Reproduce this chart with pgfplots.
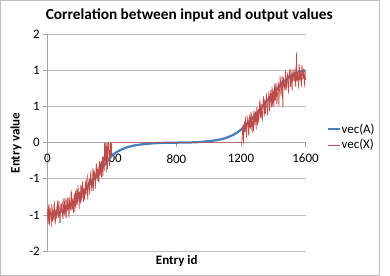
\documentclass[border=0pt]{standalone}
\usepackage{fontspec}
\setmainfont{Carlito}
\usepackage{pgfplots}
\pgfplotsset{compat=1.18}
\definecolor{xlblue}{HTML}{4A7EBB}
\definecolor{xlred}{HTML}{BE4B48}
\definecolor{gridgray}{HTML}{BFBFBF}
\definecolor{axgray}{HTML}{A6A6A6}
\begin{document}
\begin{tikzpicture}[x=1bp,y=1bp]
\path (0,0) rectangle (390,276);
\draw[color=gridgray, line width=0.75bp] (0.5,0.5) rectangle (379,275.5);
\begin{axis}[
 at={(47.3bp,25bp)}, anchor=south west,
 scale only axis, width=258.2bp, height=216.7bp,
 xmin=0, xmax=1600, ymin=-1.5, ymax=1.5,
 axis x line=middle, axis y line=left,
 axis line style={-, draw=axgray, line width=0.75bp},
 hide obscured x ticks=false, hide obscured y ticks=false,
 xtick={0,400,800,1200,1600}, xticklabels={0,400,800,1200,1600},
 ytick={-1.5,-1,-0.5,0,0.5,1,1.5}, yticklabels={-2,-1,-1,0,1,1,2},
 tick align=outside, major tick length=4bp,
 tick style={draw=axgray, line width=0.75bp},
 ymajorgrids, grid style={draw=gridgray, line width=0.75bp},
 /pgf/number format/assume math mode=true,
 ticklabel style={font=\fontsize{13}{15}\selectfont, text=black},
 xticklabel style={yshift=-4bp},
 legend style={draw=none, fill=none, at={(1.082,0.526)}, anchor=west,
   font=\fontsize{13}{15}\selectfont, row sep=3bp, inner sep=0pt,
   nodes={inner sep=1bp}},
 legend cell align=left,
 legend image code/.code={\draw[#1] (0bp,0bp) -- (11.5bp,0bp);},
 clip=false,
]
\addplot[color=xlblue, line width=2.25bp, smooth] coordinates {
(0,-1.0)(50,-0.985)(100,-0.94)(150,-0.86)(200,-0.74)(250,-0.61)(300,-0.47)(350,-0.32)(380,-0.235)(400,-0.18)(430,-0.13)(470,-0.085)(500,-0.06)(550,-0.035)(600,-0.02)(650,-0.01)(700,-0.004)(800,0)(900,0.004)(950,0.01)(1000,0.02)(1050,0.035)(1100,0.06)(1130,0.085)(1170,0.13)(1200,0.18)(1220,0.22)(1250,0.29)(1300,0.41)(1350,0.55)(1400,0.68)(1450,0.81)(1500,0.91)(1550,0.97)(1600,1.0)
};
\addlegendentry{vec(A)}
\addplot[color=xlred, line width=0.65bp] coordinates {
(0,-0.92)(2.5,-1.06)(5,-1.12)(7.5,-0.89)(10,-0.85)(12.5,-1.15)(15,-1.04)(17.5,-0.90)(20,-0.97)(22.5,-1.01)
(25,-1.17)(27.5,-0.85)(30,-0.89)(32.5,-1.09)(35,-0.95)(37.5,-0.94)(40,-1.07)(42.5,-0.81)(45,-0.85)(47.5,-1.11)
(50,-1.12)(52.5,-0.95)(55,-0.92)(57.5,-1.05)(60,-0.99)(62.5,-0.85)(65,-0.80)(67.5,-1.00)(70,-1.04)(72.5,-0.81)
(75,-0.95)(77.5,-1.11)(80,-1.11)(82.5,-0.88)(85,-0.84)(87.5,-0.95)(90,-0.87)(92.5,-0.84)(95,-1.05)(97.5,-1.05)
(100,-0.90)(102.5,-0.77)(105,-0.98)(107.5,-0.99)(110,-0.77)(112.5,-0.87)(115,-1.04)(117.5,-1.04)(120,-0.81)(122.5,-0.76)
(125,-0.92)(127.5,-0.89)(130,-0.76)(132.5,-0.99)(135,-1.04)(137.5,-0.79)(140,-0.82)(142.5,-0.91)(145,-0.93)(147.5,-0.67)
(150,-0.69)(152.5,-0.93)(155,-0.85)(157.5,-0.77)(160,-0.93)(162.5,-0.97)(165,-0.74)(167.5,-0.70)(170,-0.96)(172.5,-0.78)
(175,-0.67)(177.5,-0.91)(180,-0.78)(182.5,-0.64)(185,-0.86)(187.5,-0.80)(190,-0.58)(192.5,-0.67)(195,-0.79)(197.5,-0.92)
(200,-0.68)(202.5,-0.68)(205,-0.85)(207.5,-0.60)(210,-0.61)(212.5,-0.79)(215,-0.76)(217.5,-0.54)(220,-0.54)(222.5,-0.74)
(225,-0.82)(227.5,-0.64)(230,-0.64)(232.5,-0.79)(235,-0.56)(237.5,-0.54)(240,-0.72)(242.5,-0.65)(245,-0.50)(247.5,-0.47)
(250,-0.79)(252.5,-0.70)(255,-0.56)(257.5,-0.52)(260,-0.51)(262.5,-0.72)(265,-0.62)(267.5,-0.44)(270,-0.41)(272.5,-0.54)
(275,-0.65)(277.5,-0.62)(280,-0.52)(282.5,-0.35)(285,-0.67)(287.5,-0.56)(290,-0.39)(292.5,-0.41)(295,-0.43)(297.5,-0.64)
(300,-0.50)(302.5,-0.33)(305,-0.29)(307.5,-0.48)(310,-0.53)(312.5,-0.37)(315,-0.35)(317.5,-0.53)(320,-0.54)(322.5,-0.25)
(325,-0.37)(327.5,-0.46)(330,-0.28)(332.5,-0.27)(335,-0.44)(337.5,-0.49)(340,-0.19)(342.5,-0.30)(345,-0.46)(347.5,-0.19)
(350,-0.26)(352.5,-0.39)(355,0.00)(357.5,-0.19)(360,-0.27)(362.5,0.00)(365,-0.41)(367.5,-0.11)(370,0.00)(372.5,-0.37)
(375,-0.16)(377.5,0.00)(380,0.00)(382.5,-0.14)(385,-0.32)(387.5,-0.25)(390,0.00)(392.5,0.00)(395,-0.15)(397.5,-0.20)
(400,0.00)(1205,0.00)
(1210,0.20)(1212.5,0.25)(1215,0.00)(1217.5,0.03)(1220,0.29)(1222.5,0.24)(1225,0.15)(1227.5,0.32)(1230,0.35)(1232.5,0.11)
(1235,0.07)(1237.5,0.23)(1240,0.29)(1242.5,0.37)(1245,0.25)(1247.5,0.11)(1250,0.13)(1252.5,0.33)(1255,0.39)(1257.5,0.22)
(1260,0.20)(1262.5,0.43)(1265,0.38)(1267.5,0.18)(1270,0.14)(1272.5,0.34)(1275,0.34)(1277.5,0.16)(1280,0.44)(1282.5,0.43)
(1285,0.24)(1287.5,0.36)(1290,0.43)(1292.5,0.27)(1295,0.18)(1297.5,0.49)(1300,0.42)(1302.5,0.24)(1305,0.38)(1307.5,0.47)
(1310,0.27)(1312.5,0.38)(1315,0.55)(1317.5,0.58)(1320,0.38)(1322.5,0.34)(1325,0.54)(1327.5,0.48)(1330,0.35)(1332.5,0.29)
(1335,0.49)(1337.5,0.59)(1340,0.64)(1342.5,0.43)(1345,0.36)(1347.5,0.59)(1350,0.58)(1352.5,0.40)(1355,0.49)(1357.5,0.67)
(1360,0.65)(1362.5,0.54)(1365,0.38)(1367.5,0.46)(1370,0.60)(1372.5,0.69)(1375,0.67)(1377.5,0.43)(1380,0.51)(1382.5,0.65)
(1385,0.73)(1387.5,0.57)(1390,0.49)(1392.5,0.77)(1395,0.62)(1397.5,0.50)(1400,0.72)(1402.5,0.70)(1405,0.50)(1407.5,0.76)
(1410,0.82)(1412.5,0.58)(1415,0.62)(1417.5,0.82)(1420,0.75)(1422.5,0.52)(1425,0.60)(1427.5,0.73)(1430,0.84)(1432.5,0.80)
(1435,0.50)(1437.5,0.67)(1440,0.77)(1442.5,0.92)(1445,0.86)(1447.5,0.64)(1450,0.68)(1452.5,0.82)(1455,0.92)(1457.5,0.64)
(1460,0.48)(1462.5,0.91)(1465,0.85)(1467.5,0.80)(1470,0.77)(1472.5,0.72)(1475,0.99)(1477.5,0.97)(1480,0.73)(1482.5,0.78)
(1485,0.85)(1487.5,0.94)(1490,0.96)(1492.5,0.72)(1495,0.70)(1497.5,0.93)(1500,0.94)(1502.5,1.02)(1505,0.81)(1507.5,0.77)
(1510,1.01)(1512.5,0.92)(1515,0.78)(1517.5,0.72)(1520,0.93)(1522.5,1.02)(1525,0.94)(1527.5,0.87)(1530,0.86)(1532.5,0.99)
(1535,1.01)(1537.5,0.79)(1540,0.78)(1542.5,1.08)(1545,1.25)(1547.5,0.85)(1550,0.93)(1552.5,0.97)(1555,0.80)(1557.5,0.77)
(1560,1.09)(1562.5,1.04)(1565,0.86)(1567.5,0.95)(1570,0.96)(1572.5,0.83)(1575,0.80)(1577.5,1.08)(1580,1.04)(1582.5,0.88)
(1585,0.89)(1587.5,1.02)(1590,0.95)(1592.5,0.82)(1595,0.79)(1597.5,1.00)(1600,0.87)
};
\addlegendentry{vec(X)}
\end{axis}
\node[anchor=base, font=\fontsize{15.4}{17}\selectfont\bfseries] at (189.2,257) {Correlation between input and output values};
\node[anchor=base, font=\fontsize{13}{15}\selectfont\bfseries] at (176.7,11.7) {Entry id};
\node[anchor=base, rotate=90, font=\fontsize{13}{15}\selectfont\bfseries] at (19.5,133) {Entry value};
\end{tikzpicture}
\end{document}
